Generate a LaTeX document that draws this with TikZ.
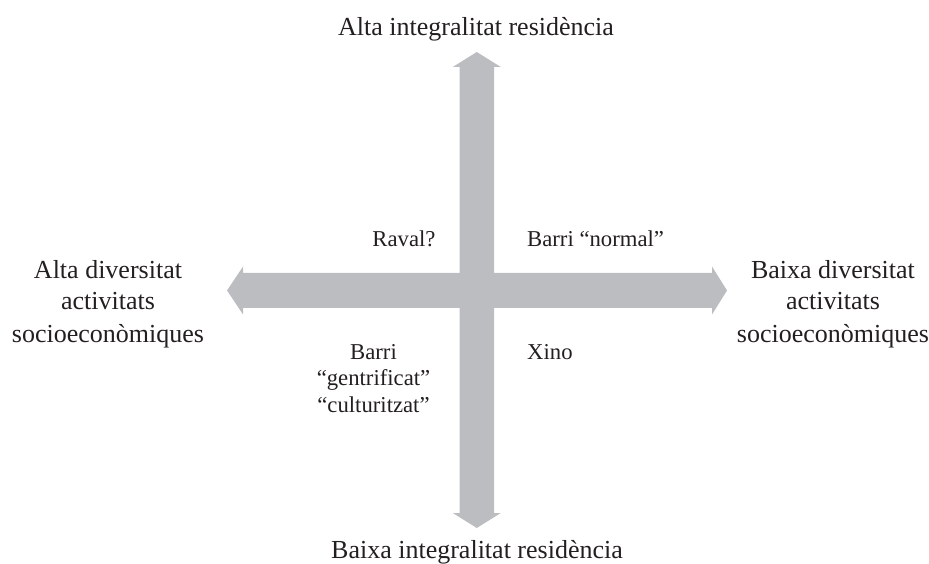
\documentclass[tikz,border=0pt]{standalone}
\usepackage{fontspec}
\setmainfont{Liberation Serif}
\definecolor{bargrey}{HTML}{BCBDC0}
\definecolor{inkgrey}{HTML}{231F20}
\begin{document}
\begin{tikzpicture}[x=1pt,y=1pt,
  outerlabel/.style={text=inkgrey,align=center,inner sep=0pt,font=\fontsize{26}{32}\selectfont},
  innerlabel/.style={text=inkgrey,align=center,inner sep=0pt,font=\fontsize{22.7}{26.5}\selectfont},
  arrowshape/.style={fill=bargrey,draw=none}]
\useasboundingbox (0,0) rectangle (929,563);
% vertical double arrow (image y flipped: Y = 563 - y)
\fill[arrowshape] (476.75,511) -- (500.75,496) -- (494,496) -- (494,50) -- (500.75,50)
  -- (476.75,35) -- (452.75,50) -- (459.5,50) -- (459.5,496) -- (452.75,496) -- cycle;
% horizontal double arrow
\fill[arrowshape] (227,272.5) -- (243,296.5) -- (243,290) -- (712,290) -- (712,296.5)
  -- (727,272.5) -- (712,248.5) -- (712,255) -- (243,255) -- (243,248.5) -- cycle;
% outer labels (base anchor = baseline of last line)
\node[outerlabel,anchor=base] (top) at (476,527) {Alta integralitat residència};
\node[outerlabel,anchor=base] (bottom) at (477,5) {Baixa integralitat residència};
\node[outerlabel,anchor=base] (left) at (108,221) {Alta diversitat\\activitats\\socioeconòmiques};
\node[outerlabel,anchor=base] (right) at (833,221) {Baixa diversitat\\activitats\\socioeconòmiques};
% inner labels
\node[innerlabel,anchor=base] (raval) at (404,316) {Raval?};
\node[innerlabel,anchor=base west] (normal) at (527,316) {Barri “normal”};
\node[innerlabel,anchor=base] (gentri) at (373.5,151) {Barri\\“gentrificat”\\“culturitzat”};
\node[innerlabel,anchor=base west] (xino) at (527,204) {Xino};
\end{tikzpicture}
\end{document}
